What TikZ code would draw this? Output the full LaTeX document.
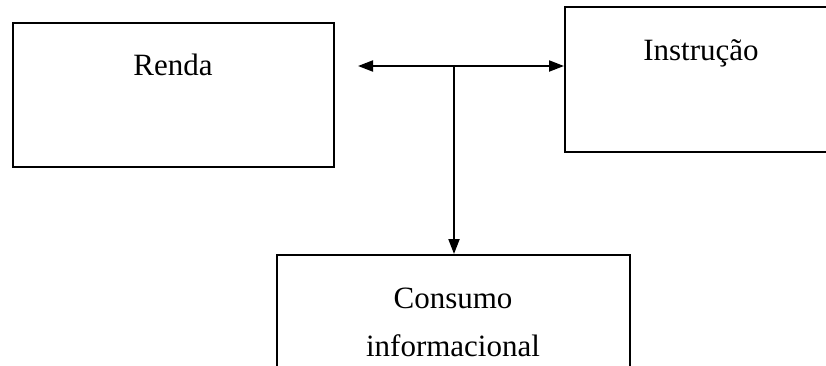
\documentclass[tikz,border=0pt]{standalone}
\usepackage{fontspec}
\setmainfont{Liberation Serif}
\usetikzlibrary{arrows.meta}
\begin{document}
\begin{tikzpicture}[x=1pt,y=-1pt,
  box/.style={draw=black,line width=2pt,rectangle,inner sep=0pt},
  lbl/.style={anchor=base,inner sep=0pt,font=\fontsize{31}{31}\selectfont},
  arr/.style={line width=2pt,-{Triangle[length=15pt,width=11pt]}}]
\useasboundingbox (0,0) rectangle (826,365);
\clip (0,0) rectangle (826,365);
\fill[white] (0,0) rectangle (826,365);
\node[box,minimum width=321pt,minimum height=144pt] (renda) at (173.5,95) {};
\node[box,minimum width=270pt,minimum height=145pt] (inst) at (700,79.5) {};
\node[box,minimum width=353pt,minimum height=150pt] (cons) at (453.5,330) {};
\node[lbl] (trenda) at (173,75) {Renda};
\node[lbl] (tinst) at (701,60) {Instrução};
\node[lbl] (tcons1) at (453,308) {Consumo};
\node[lbl] (tcons2) at (453,356) {informacional};
\coordinate (j) at (454,66);
\coordinate (l) at (358,66);
\draw[arr] (j) -- (l);
\draw[arr] (j) -- (j -| inst.west);
\draw[arr] (j) -- (j |- cons.north);
\end{tikzpicture}
\end{document}
